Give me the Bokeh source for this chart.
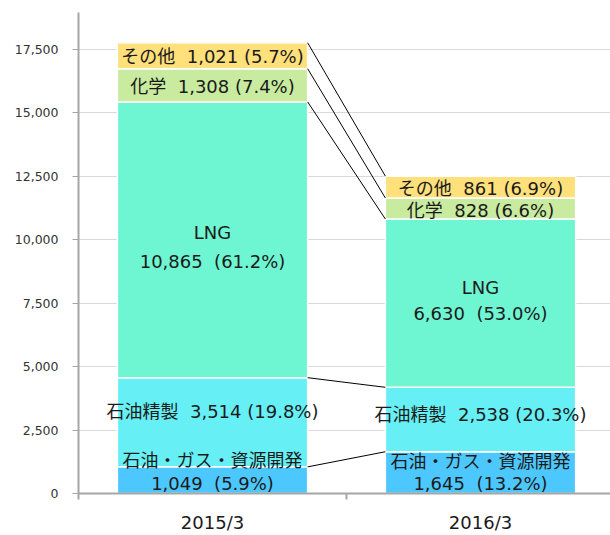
from bokeh.plotting import figure
from bokeh.models import ColumnDataSource, Range1d, FixedTicker, NumeralTickFormatter
from bokeh.core.properties import value
from bokeh.embed import file_html
from bokeh.resources import INLINE

# ---- data ----
categories = ["2015/3", "2016/3"]
segment_names = ["石油・ガス・資源開発", "石油精製", "LNG", "化学", "その他"]
oil_gas = [1049, 1645]
refining = [3514, 2538]
lng = [10865, 6630]
chemical = [1308, 828]
other = [1021, 861]
pct_oil_gas = [5.9, 13.2]
pct_refining = [19.8, 20.3]
pct_lng = [61.2, 53.0]
pct_chemical = [7.4, 6.6]
pct_other = [5.7, 6.9]
y_ticks = [0, 2500, 5000, 7500, 10000, 12500, 15000, 17500]

# ---- styles ----
colors = ["#4DC8FF", "#66F0F5", "#6EF5D2", "#C8EBA0", "#FFE07A"]
FONT_NAME = "DejaVu Sans, Noto Sans CJK JP"
FONT = value(FONT_NAME)
BAR_W = 0.71
GAP = "\u00a0\u00a0"

series = [oil_gas, refining, lng, chemical, other]
pcts = [pct_oil_gas, pct_refining, pct_lng, pct_chemical, pct_other]
keys = ["s0", "s1", "s2", "s3", "s4"]
xs = [i + 0.5 for i in range(len(categories))]

data = {"x": xs}
for k, s in zip(keys, series):
    data[k] = s
src = ColumnDataSource(data)

p = figure(width=610, height=535, output_backend="svg", toolbar_location=None,
           x_range=Range1d(0, 1.985), y_range=Range1d(0, 18950),
           min_border_left=78, min_border_right=0, min_border_top=12, min_border_bottom=42)
p.outline_line_color = None
p.background_fill_color = "white"

p.vbar_stack(keys, x="x", width=BAR_W, source=src, fill_color=colors,
             line_color="white", line_width=1.5)

# cumulative tops
cums = []
run = [0] * len(categories)
for s in series:
    run = [a + b for a, b in zip(run, s)]
    cums.append(list(run))
bottoms = [[0] * len(categories)] + cums[:-1]

# connector lines between the two bars
p.segment(x0=[xs[0] + BAR_W / 2] * len(cums), y0=[c[0] for c in cums],
          x1=[xs[1] - BAR_W / 2] * len(cums), y1=[c[1] for c in cums],
          line_color="black", line_width=1)

# labels
lx, ly, lt, loff = [], [], [], []
single_off = {1: [-11, -5], 3: [1, 1.5], 4: [1, 1]}
two_line_off = {0: [(-20, 3), (-11, 11)], 2: [(-7, 22), (-16, 10)]}
for si, name in enumerate(segment_names):
    for ci in range(len(categories)):
        mid = (bottoms[si][ci] + cums[si][ci]) / 2
        v = f"{series[si][ci]:,}"
        pc = f"({pcts[si][ci]:.1f}%)"
        if si in single_off:
            lx.append(xs[ci]); ly.append(mid); lt.append(f"{name}{GAP}{v} {pc}")
            loff.append(single_off[si][ci])
        else:
            o1, o2 = two_line_off[si][ci]
            lx.append(xs[ci]); ly.append(mid); lt.append(name); loff.append(o1)
            lx.append(xs[ci]); ly.append(mid); lt.append(f"{v}{GAP}{pc}"); loff.append(o2)

lsrc = ColumnDataSource(dict(x=lx, y=ly, text=lt, yo=loff))
p.text(x="x", y="y", text="text", y_offset="yo", source=lsrc,
       text_align="center", text_baseline="middle", text_font=FONT,
       text_font_size="18px", text_color="#1a1a1a")

# y axis
p.yaxis.ticker = FixedTicker(ticks=y_ticks)
p.yaxis.formatter = NumeralTickFormatter(format="0,0")
p.yaxis.axis_line_color = "#a6a6a6"
p.yaxis.axis_line_width = 2
p.yaxis.major_tick_line_color = "#a6a6a6"
p.yaxis.major_tick_out = 6
p.yaxis.major_tick_in = 0
p.yaxis.minor_tick_line_color = None
p.yaxis.major_label_standoff = 14
p.yaxis.major_label_text_font = FONT_NAME
p.yaxis.major_label_text_font_size = "12.5px"
p.yaxis.major_label_text_color = "#333333"

# x axis: labels at centers, ticks at category boundaries
p.xaxis.ticker = FixedTicker(ticks=xs, minor_ticks=[float(i) for i in range(len(categories) + 1)])
p.xaxis.major_label_overrides = {x: c for x, c in zip(xs, categories)}
p.xaxis.axis_line_color = "#a6a6a6"
p.xaxis.axis_line_width = 2
p.xaxis.major_tick_line_color = None
p.xaxis.major_tick_out = 0
p.xaxis.major_tick_in = 0
p.xaxis.minor_tick_line_color = "#a6a6a6"
p.xaxis.minor_tick_line_width = 2
p.xaxis.minor_tick_out = 6
p.xaxis.minor_tick_in = 0
p.xaxis.major_label_standoff = 12
p.xaxis.major_label_text_font = FONT_NAME
p.xaxis.major_label_text_font_size = "18px"
p.xaxis.major_label_text_color = "#1a1a1a"

p.xgrid.grid_line_color = None
p.ygrid.ticker = FixedTicker(ticks=y_ticks)
p.ygrid.grid_line_color = "#d9d9d9"
p.ygrid.grid_line_width = 1

open("out.html", "w").write(file_html(p, INLINE))
